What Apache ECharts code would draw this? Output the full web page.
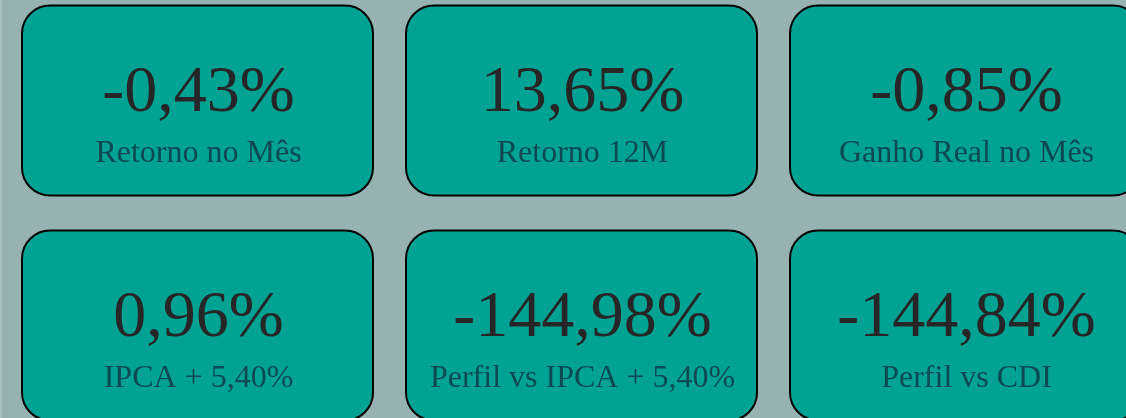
<!DOCTYPE html>
<html>
<head>
<meta charset="utf-8">
<style>
  html, body { margin: 0; padding: 0; background: #96b2b2; }
  #chart { width: 1126px; height: 418px; }
</style>
<script src="https://cdn.jsdelivr.net/npm/echarts@6/dist/echarts.min.js"></script>
</head>
<body>
<div id="chart"></div>
<script>
// ---- data ----
var columns = ['c1', 'c2', 'c3'];
var rows = ['r1', 'r2'];
var values = ['-0,43%', '13,65%', '-0,85%', '0,96%', '-144,98%', '-144,84%'];
var labels = ['Retorno no Mês', 'Retorno 12M', 'Ganho Real no Mês', 'IPCA + 5,40%', 'Perfil vs IPCA + 5,40%', 'Perfil vs CDI'];

var cards = values.map(function (v, i) {
  return [i % 3, Math.floor(i / 3), v, labels[i]];
});

var chart = echarts.init(document.getElementById('chart'), null, { renderer: 'canvas' });
var serif = "'Liberation Serif', 'Times New Roman', serif";

chart.setOption({
  backgroundColor: '#96b2b2',
  animation: false,
  grid: { left: 5.5, top: -12, width: 1152, height: 450, outerBoundsMode: 'none', containLabel: false },
  xAxis: { type: 'category', data: columns, show: false },
  yAxis: { type: 'category', data: rows, show: false, inverse: true },
  graphic: [{ type: 'rect', shape: { x: 0, y: 0, width: 2, height: 418 }, style: { fill: '#a7bfbf' }, silent: true }],
  series: [{
    type: 'custom',
    clip: false,
    data: cards,
    renderItem: function (params, api) {
      var c = api.coord([api.value(0), api.value(1)]);
      var band = api.size([1, 1]);
      var w = band[0] - 33, h = band[1] - 35;
      var d = cards[params.dataIndex];
      return {
        type: 'group',
        children: [
          {
            type: 'rect',
            shape: { x: c[0] - w / 2, y: c[1] - h / 2, width: w, height: h, r: 28 },
            style: { fill: '#00a293', stroke: '#000000', lineWidth: 2 }
          },
          {
            type: 'text',
            style: {
              x: c[0] + 1, y: c[1] - 7,
              text: d[2],
              fill: '#262626',
              font: '66px ' + serif,
              align: 'center', verticalAlign: 'middle'
            }
          },
          {
            type: 'text',
            style: {
              x: c[0] + 1, y: c[1] + 53,
              text: d[3],
              fill: '#0c4955',
              font: '32px ' + serif,
              align: 'center', verticalAlign: 'middle'
            }
          }
        ]
      };
    }
  }]
});
</script>
</body>
</html>
